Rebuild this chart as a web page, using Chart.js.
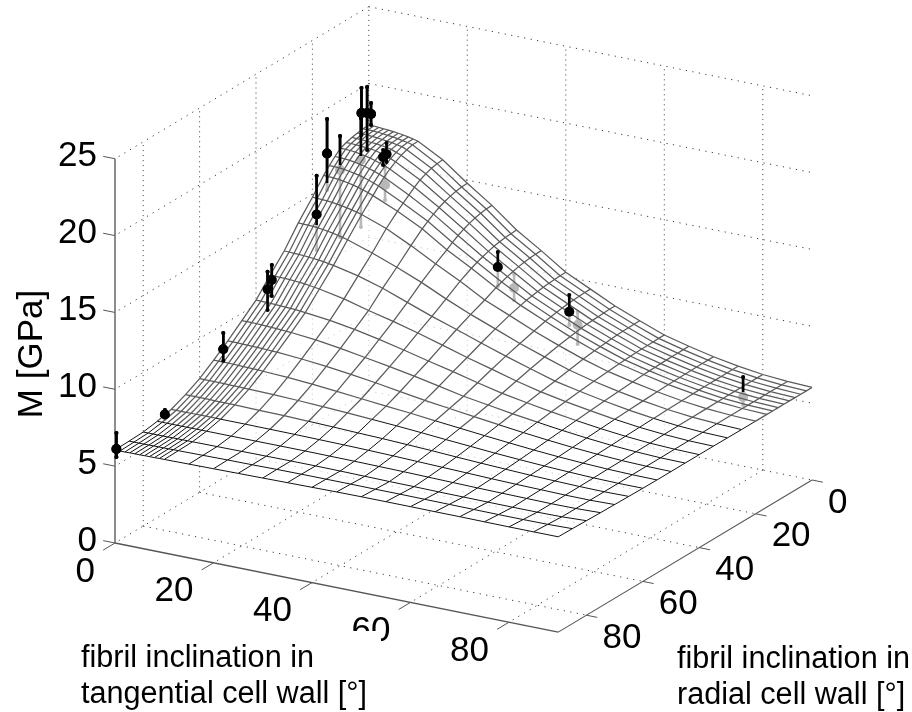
<!DOCTYPE html>
<html><head><meta charset="utf-8">
<style>html,body{margin:0;padding:0;background:#fff}canvas{display:block}</style>
<script src="https://cdn.jsdelivr.net/npm/chart.js@4"></script></head>
<body><canvas id="c" width="912" height="712"></canvas>
<script>
const tAngles=[0,1,2,3,4,5,6,7,8,9,10,15,20,25,30,35,40,45,50,55,60,65,70,75,80,85,90];
const rAngles=[0,2,4,6,8,10,12,14,16,20,25,30,35,40,45,50,55,60,65,70,75,80,85,90];
const M_r0=[17.30,17.30,17.27,17.25,17.22,17.19,17.15,17.10,17.04,16.97,16.89,16.00,14.80,13.68,12.40,11.38,10.30,9.52,8.75,8.11,7.50,7.09,6.73,6.44,6.22,6.09,6.02];
const M_r2=[17.27,17.27,17.26,17.24,17.21,17.17,17.13,17.08,17.02,16.96,16.88,15.97,14.77,13.66,12.38,11.37,10.29,9.52,8.75,8.10,7.50,7.09,6.73,6.44,6.22,6.09,6.02];
const M_r4=[17.22,17.22,17.21,17.19,17.16,17.12,17.08,17.04,16.97,16.91,16.77,15.89,14.72,13.61,12.35,11.34,10.26,9.50,8.73,8.09,7.49,7.08,6.73,6.44,6.22,6.09,6.02];
const M_r6=[17.15,17.14,17.13,17.11,17.08,17.05,17.01,16.96,16.89,16.76,16.63,15.75,14.62,13.52,12.30,11.29,10.24,9.47,8.71,8.08,7.48,7.08,6.72,6.43,6.22,6.09,6.02];
const M_r8=[17.04,17.04,17.02,17.00,16.97,16.94,16.89,16.79,16.69,16.57,16.43,15.57,14.49,13.39,12.22,11.22,10.20,9.44,8.69,8.06,7.47,7.07,6.72,6.43,6.22,6.09,6.03];
const M_r10=[16.89,16.88,16.87,16.83,16.77,16.71,16.63,16.54,16.43,16.31,16.18,15.32,14.32,13.23,12.11,11.12,10.14,9.39,8.66,8.03,7.46,7.06,6.71,6.43,6.22,6.09,6.03];
const M_r12=[16.57,16.56,16.54,16.51,16.46,16.39,16.32,16.22,16.12,16.00,15.87,15.03,14.11,13.04,11.98,11.01,10.07,9.33,8.61,8.00,7.44,7.04,6.70,6.42,6.22,6.09,6.03];
const M_r14=[16.20,16.20,16.18,16.14,16.09,16.03,15.96,15.87,15.76,15.65,15.52,14.72,13.86,12.81,11.84,10.88,10.01,9.26,8.56,7.96,7.42,7.03,6.69,6.42,6.21,6.09,6.03];
const M_r16=[15.78,15.77,15.75,15.72,15.67,15.61,15.53,15.45,15.35,15.24,15.11,14.42,13.59,12.55,11.67,10.73,9.90,9.19,8.51,7.91,7.39,7.01,6.68,6.41,6.21,6.09,6.03];
const M_r20=[14.80,14.79,14.77,14.75,14.72,14.67,14.62,14.56,14.49,14.41,14.32,13.73,12.94,12.08,11.27,10.37,9.69,9.00,8.38,7.81,7.33,6.97,6.65,6.39,6.20,6.09,6.03];
const M_r25=[13.68,13.67,13.66,13.64,13.61,13.57,13.52,13.46,13.39,13.32,13.23,12.69,12.08,11.42,10.67,9.98,9.36,8.73,8.18,7.65,7.24,6.90,6.61,6.37,6.19,6.09,6.03];
const M_r30=[12.40,12.40,12.38,12.37,12.35,12.32,12.30,12.26,12.22,12.16,12.11,11.75,11.27,10.67,10.08,9.55,8.99,8.46,7.96,7.48,7.14,6.83,6.56,6.34,6.18,6.08,6.04];
const M_r35=[11.38,11.38,11.37,11.36,11.34,11.32,11.29,11.26,11.22,11.17,11.12,10.80,10.37,9.98,9.55,9.08,8.60,8.16,7.71,7.33,7.02,6.75,6.51,6.31,6.17,6.08,6.05];
const M_r40=[10.30,10.30,10.29,10.28,10.27,10.25,10.24,10.22,10.20,10.17,10.14,9.95,9.69,9.36,8.99,8.60,8.23,7.83,7.46,7.17,6.90,6.66,6.45,6.28,6.15,6.08,6.05];
const M_r45=[9.52,9.52,9.52,9.51,9.50,9.49,9.47,9.45,9.44,9.41,9.39,9.23,9.00,8.73,8.46,8.16,7.83,7.50,7.25,7.00,6.78,6.57,6.39,6.24,6.14,6.07,6.05];
const M_r50=[8.75,8.75,8.75,8.74,8.73,8.72,8.71,8.70,8.69,8.67,8.66,8.54,8.38,8.18,7.96,7.71,7.46,7.25,7.04,6.84,6.65,6.48,6.33,6.21,6.12,6.07,6.05];
const M_r55=[8.05,8.05,8.05,8.05,8.04,8.03,8.02,8.01,8.00,7.99,7.97,7.90,7.78,7.63,7.47,7.31,7.17,7.00,6.84,6.68,6.53,6.39,6.27,6.18,6.11,6.07,6.05];
const M_r60=[7.40,7.40,7.40,7.40,7.39,7.39,7.38,7.38,7.37,7.36,7.36,7.32,7.26,7.18,7.10,7.00,6.90,6.78,6.65,6.53,6.41,6.31,6.22,6.15,6.09,6.06,6.06];
const M_r65=[6.90,6.90,6.90,6.90,6.90,6.90,6.89,6.89,6.89,6.88,6.88,6.85,6.82,6.78,6.73,6.67,6.62,6.55,6.48,6.39,6.31,6.24,6.17,6.12,6.08,6.06,6.08];
const M_r70=[6.50,6.50,6.50,6.50,6.50,6.50,6.50,6.50,6.50,6.50,6.50,6.50,6.49,6.48,6.46,6.44,6.41,6.37,6.32,6.27,6.22,6.17,6.13,6.10,6.07,6.06,6.10];
const M_r75=[6.27,6.27,6.27,6.27,6.27,6.27,6.27,6.27,6.27,6.27,6.27,6.27,6.27,6.27,6.27,6.26,6.25,6.23,6.21,6.18,6.15,6.12,6.10,6.08,6.06,6.07,6.12];
const M_r80=[6.12,6.12,6.12,6.12,6.12,6.12,6.13,6.13,6.13,6.13,6.13,6.14,6.15,6.16,6.17,6.17,6.16,6.14,6.12,6.11,6.09,6.08,6.07,6.06,6.06,6.08,6.15];
const M_r85=[6.08,6.08,6.08,6.08,6.08,6.09,6.09,6.09,6.09,6.10,6.10,6.12,6.14,6.15,6.17,6.18,6.18,6.18,6.17,6.17,6.16,6.15,6.14,6.13,6.13,6.14,6.18];
const M_r90=[6.05,6.05,6.05,6.06,6.06,6.06,6.07,6.07,6.07,6.08,6.08,6.10,6.12,6.14,6.16,6.18,6.20,6.22,6.23,6.23,6.23,6.22,6.22,6.21,6.20,6.20,6.20];
const surfaceRows=[M_r0,M_r2,M_r4,M_r6,M_r8,M_r10,M_r12,M_r14,M_r16,M_r20,M_r25,M_r30,M_r35,M_r40,M_r45,M_r50,M_r55,M_r60,M_r65,M_r70,M_r75,M_r80,M_r85,M_r90];

const measT=[0,0,0,0,0,0,0,0,0,0,0,0.45,2.9,3.6,3.3,26.2,29.5,40.7,42.4,76];
const measR=[89.5,72.3,51.6,35.9,34.4,18.5,14.8,10.2,2.6,2.8,0.6,0,0,0,0,0,0,0,0,0];
const measM=[6.06,6.42,8.38,10.56,11.0,13.51,17.07,15.49,18.37,15.33,18.15,18.04,15.41,15.63,13.61,9.75,8.60,7.77,7.02,4.50];
const measHi=[7.10,6.71,9.44,11.70,11.97,16.04,19.32,17.70,19.99,18.06,19.84,18.76,15.86,16.36,14.78,10.73,9.51,8.86,7.87,5.80];
const measLo=[5.54,6.12,7.64,9.21,9.95,11.20,14.70,11.13,16.94,10.97,15.74,17.33,14.89,15.13,12.64,8.52,7.81,6.91,5.78,3.98];
const measCut=[5.54,6.38,7.64,9.21,9.95,12.83,15.15,15.82,16.94,15.59,15.74,17.33,14.89,15.13,14.78,9.69,9.51,7.50,7.87,4.82];

const zTicks=[0,5,10,15,20,25];
const tTicks=[0,20,40,60,80];
const rTicks=[0,20,40,60,80];
const zLabel='M [GPa]';
const tLabelLines=['fibril inclination in','tangential cell wall [°]'];
const rLabelLines=['fibril inclination in','radial cell wall [°]'];

const FONT='"Liberation Sans",Arial,sans-serif';
const P=(t,r,z)=>({x:368.8+4.925*t-2.82*r,y:390.9+0.99*t+1.69*r-15.37*z});
const ds=[];
function seg(a,b,color,width,dash,order){ds.push({data:[P(...a),P(...b)],showLine:true,borderColor:color,borderWidth:width,borderDash:dash||[],pointRadius:0,order});}
const DOT='#3a3a3a',AX='#555';
const dV=[1,4],dH=[1.2,5.4];
for(const r of rTicks) seg([0,r,0],[0,r,25],DOT,1,dV,100);
for(const t of tTicks) if(t>0) seg([t,0,0],[t,0,25],DOT,1,dV,100);
for(const z of zTicks){seg([0,0,z],[0,90,z],DOT,1,dH,100);seg([0,0,z],[90,0,z],DOT,1,dH,100);}
for(const t of tTicks) if(t>0) seg([t,0,0],[t,90,0],DOT,1,dH,100);
for(const r of rTicks) if(r>0) seg([0,r,0],[90,r,0],DOT,1,dH,100);
seg([0,90,0],[0,90,25],'#666',1.5,null,90);
seg([0,90,0],[90,90,0],AX,1.3,null,90);
seg([90,90,0],[90,0,0],AX,1.1,null,90);
for(const z of zTicks) seg([0,90,z],[-2.4,90,z],AX,1,null,90);
for(const t of tTicks) seg([t,90,0],[t,94.2,0],AX,1,null,90);
for(const r of rTicks) seg([90,r,0],[92.2,r,0],AX,1,null,90);
measT.forEach((t,i)=>{
  const r=measR[i];
  ds.push({data:[P(t,r,measLo[i]),P(t,r,measM[i]),P(t,r,measHi[i])],showLine:true,borderColor:'#000',backgroundColor:'#000',borderWidth:2.6,pointBorderWidth:0,pointRadius:[2,5,2],order:80});
});
const nT=tAngles.length,nR=rAngles.length,outline=[];
for(let j=nR-1;j>=0;j--) outline.push(P(tAngles[0],rAngles[j],surfaceRows[j][0]));
for(let i=1;i<nT;i++) outline.push(P(tAngles[i],rAngles[0],surfaceRows[0][i]));
for(let j=1;j<nR;j++) outline.push(P(tAngles[nT-1],rAngles[j],surfaceRows[j][nT-1]));
for(let i=nT-2;i>=0;i--) outline.push(P(tAngles[i],rAngles[nR-1],surfaceRows[nR-1][i]));
ds.push({data:outline,showLine:true,borderWidth:0,borderColor:'rgba(0,0,0,0)',backgroundColor:'rgba(255,255,255,0.72)',fill:'shape',pointRadius:0,tension:0,order:70});
const lower=c=>c.p0.parsed.y>418;
const meshSeg={borderColor:c=>lower(c)?'#111':'#5a5a5a',borderWidth:c=>lower(c)?1:1.25};
rAngles.forEach((r,j)=>{
  ds.push({data:tAngles.map((t,i)=>P(t,r,surfaceRows[j][i])),showLine:true,borderColor:'#5a5a5a',borderWidth:1,pointRadius:0,order:60,segment:meshSeg});
});
tAngles.forEach((t,i)=>{
  ds.push({data:rAngles.map((r,j)=>P(t,r,surfaceRows[j][i])),showLine:true,borderColor:'#5a5a5a',borderWidth:1,pointRadius:0,order:60,segment:meshSeg});
});
measT.forEach((t,i)=>{
  const r=measR[i],cut=measCut[i],hi=measHi[i];
  if(cut>=hi) return;
  const pts=[P(t,r,cut),P(t,r,hi)],rad=[cut===measLo[i]?2:0,2];
  if(measM[i]>=cut){pts.splice(1,0,P(t,r,measM[i]));rad.splice(1,0,5);}
  ds.push({data:pts,showLine:true,borderColor:'#000',backgroundColor:'#000',borderWidth:2.6,pointBorderWidth:0,pointRadius:rad,order:50});
});
const textPlugin={id:'texts',afterDraw(ch){
  const g=ch.ctx;g.save();g.fillStyle='#000';
  g.font='35px '+FONT;g.textBaseline='middle';
  g.textAlign='right';
  for(const z of zTicks){const p=P(0,90,z);g.fillText(String(z),p.x-18,p.y-2);}
  for(const t of tTicks){const p=P(t,90,0);g.fillText(String(t),p.x-20,p.y+29);}
  g.textAlign='left';
  for(const r of rTicks){const p=P(90,r,0);g.fillText(String(r),p.x+16,p.y+23);}
  g.fillStyle='#fff';g.fillRect(75,631,306,81);
  g.fillStyle='#000';
  g.font='30.6px '+FONT;g.textBaseline='alphabetic';g.textAlign='left';
  tLabelLines.forEach((s,k)=>g.fillText(s,81,667+k*36));
  rLabelLines.forEach((s,k)=>g.fillText(s,677,668+k*36));
  g.save();g.translate(42,354);g.rotate(-Math.PI/2);g.textAlign='center';g.font='35px '+FONT;g.fillText(zLabel,0,0);g.restore();
  g.restore();
}};
new Chart(document.getElementById('c'),{type:'scatter',data:{datasets:ds},plugins:[textPlugin],options:{
  responsive:false,animation:false,events:[],layout:{padding:0,autoPadding:false},
  plugins:{legend:{display:false},tooltip:{enabled:false}},
  scales:{x:{type:'linear',min:0,max:912,display:false},y:{type:'linear',min:0,max:712,reverse:true,display:false}},
  elements:{line:{tension:0}}
}});
</script></body></html>
